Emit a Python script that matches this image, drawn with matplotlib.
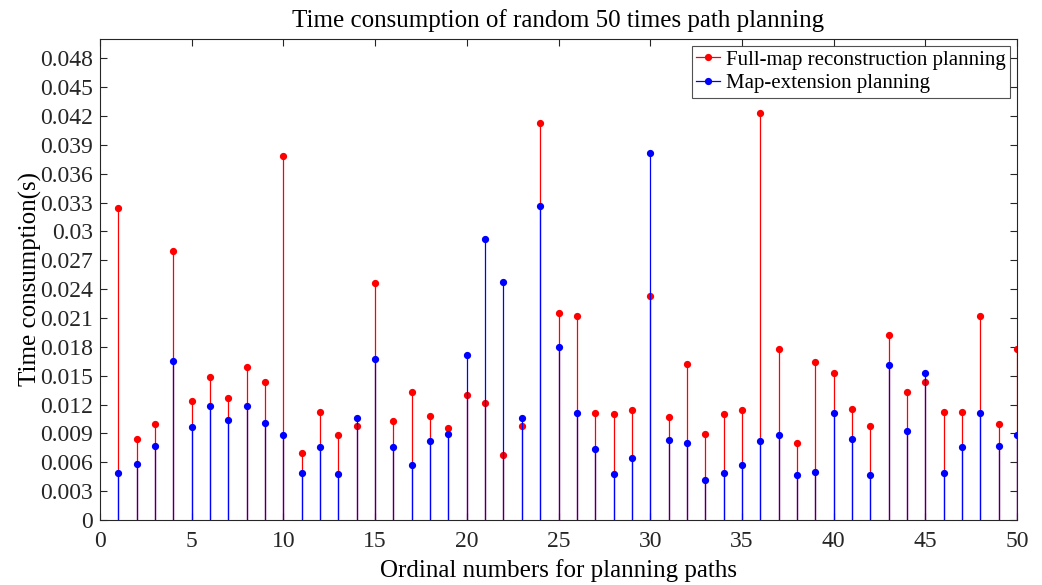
import matplotlib
matplotlib.use("Agg")
import matplotlib.pyplot as plt
from matplotlib.lines import Line2D
import numpy as np

plt.rcParams['font.family'] = ['Liberation Serif', 'DejaVu Serif']
plt.rcParams['mathtext.fontset'] = 'stix'

paths = list(range(1, 51))
full_map = [0.03245, 0.00842, 0.00997, 0.02795, 0.01236, 0.01482, 0.01264, 0.01593, 0.01437, 0.03782,
            0.00699, 0.01122, 0.00880, 0.00980, 0.02459, 0.01029, 0.01326, 0.01077, 0.00952, 0.01295,
            0.01219, 0.00672, 0.00977, 0.04128, 0.02148, 0.02120, 0.01110, 0.01105, 0.01140, 0.02327,
            0.01074, 0.01620, 0.00890, 0.01105, 0.01140, 0.04229, 0.01780, 0.00804, 0.01642, 0.01524,
            0.01157, 0.00977, 0.01922, 0.01326, 0.01437, 0.01125, 0.01122, 0.02120, 0.00997, 0.01777]
map_ext = [0.00492, 0.00582, 0.00772, 0.01652, 0.00963, 0.01184, 0.01035, 0.01184, 0.01008, 0.00883,
           0.00492, 0.00762, 0.00474, 0.01063, 0.01673, 0.00755, 0.00571, 0.00817, 0.00890, 0.01714,
           0.02923, 0.02476, 0.01063, 0.03266, 0.01794, 0.01115, 0.00734, 0.00478, 0.00648, 0.03810,
           0.00828, 0.00804, 0.00416, 0.00485, 0.00575, 0.00817, 0.00880, 0.00464, 0.00495, 0.01108,
           0.00845, 0.00464, 0.01610, 0.00928, 0.01530, 0.00485, 0.00758, 0.01115, 0.00772, 0.00880]
y_ticks = [0, 0.003, 0.006, 0.009, 0.012, 0.015, 0.018, 0.021, 0.024, 0.027, 0.03,
           0.033, 0.036, 0.039, 0.042, 0.045, 0.048]
y_labels = ['0', '0.003', '0.006', '0.009', '0.012', '0.015', '0.018', '0.021', '0.024', '0.027', '0.03',
            '0.033', '0.036', '0.039', '0.042', '0.045', '0.048']
x_ticks = [0, 5, 10, 15, 20, 25, 30, 35, 40, 45, 50]
series_names = ['Full-map reconstruction planning', 'Map-extension planning']
series_colors = ['#ff0000', '#0000ff']

fig = plt.figure(figsize=(10.42, 5.85), dpi=100)
ax = fig.add_axes([100/1042, 1-520/585, 917/1042, 481/585])

handles = []
for ys, col, lab in zip([full_map, map_ext], series_colors, series_names):
    ml, sl, bl = ax.stem(paths, ys, linefmt='-', markerfmt='o', basefmt=' ')
    plt.setp(sl, color=col, linewidth=0.9)
    plt.setp(ml, color=col, markersize=4.2)
    handles.append(Line2D([0], [0], color=col, linewidth=0.9, marker='o', markersize=4.2,
                          markevery=[1], label=lab))

ax.set_xlim(0, 50)
ax.set_ylim(0, 0.05)
ax.set_xticks(x_ticks)
ax.set_yticks(y_ticks)
ax.set_yticklabels(y_labels)
ax.tick_params(direction='in', top=True, right=True, labelsize=17, length=5, width=0.8,
               colors='#262626', labelcolor='#262626', pad=5)
ax.tick_params(axis='x', pad=8)
for s in ax.spines.values():
    s.set_linewidth(0.8)
    s.set_color('#262626')

ax.set_title('Time consumption of random 50 times path planning', fontsize=18, pad=9)
ax.set_xlabel('Ordinal numbers for planning paths', fontsize=18, labelpad=5)
ax.set_ylabel('Time consumption(s)', fontsize=18, labelpad=-1.3)

leg = ax.legend(handles=handles, loc='upper right', fontsize=15, frameon=True, fancybox=False,
                edgecolor='#262626', borderpad=0.2, handlelength=1.15, handletextpad=0.3,
                labelspacing=0.2, borderaxespad=0.33)
leg.get_frame().set_linewidth(0.8)

fig.savefig('out.png', dpi=100)
